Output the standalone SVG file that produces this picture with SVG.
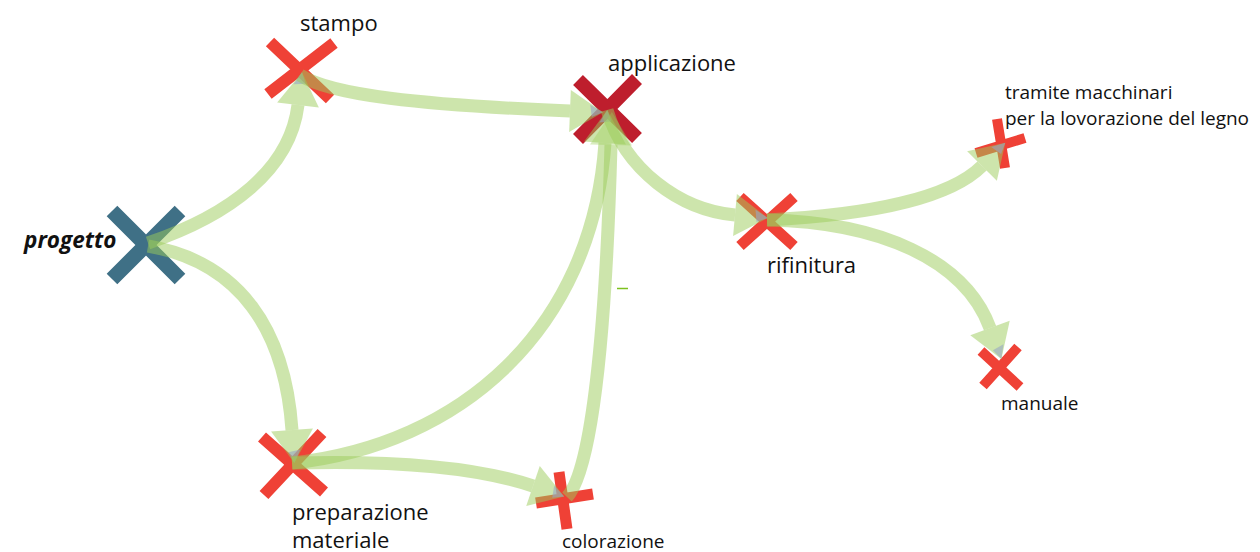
<svg xmlns="http://www.w3.org/2000/svg" width="1260" height="552" viewBox="0 0 1260 552">
<style>
.lbl{font-family:"Open Sans","Liberation Sans",sans-serif;fill:#111;}
.big{font-size:22px;}
.sm{font-size:19px;}
.red{stroke:#ef4136;fill:none;}
.edge{fill:none;stroke:#9ccc5a;stroke-opacity:0.5;stroke-width:13;}
</style>
<defs>
<marker id="ah" markerUnits="userSpaceOnUse" markerWidth="40" markerHeight="46" viewBox="0 -23 36 46" refX="0" refY="0" orient="auto">
<path d="M0,-21 L33,0 L0,21 Z" fill="#9ccc5a" fill-opacity="0.5"/>
<path d="M20,-7 L33,0 L22,5 Z" fill="#98a6c4" fill-opacity="0.6"/>
</marker>
<marker id="ah2" markerUnits="userSpaceOnUse" markerWidth="40" markerHeight="46" viewBox="0 -23 36 46" refX="0" refY="0" orient="auto">
<path d="M0,-21 L33,0 L0,21 Z" fill="#9ccc5a" fill-opacity="0.38"/>
</marker>
</defs>
<rect width="1260" height="552" fill="#fff"/>

<g id="progetto">
<path d="M112,211 L180,279 M112,279 L180,211" stroke="#3f7086" stroke-width="15" fill="none"/>
<text class="lbl" x="24" y="248" font-size="22.5" font-weight="bold" font-style="italic">progetto</text>
</g>
<g id="stampo">
<path d="M270,42 L330,99 M268,94 L334,43" class="red" stroke-width="12"/>
<text class="lbl big" x="300" y="31">stampo</text>
</g>
<g id="applicazione">
<path d="M578,80 L637,138 M578,139 L637,79" stroke="#be1e2d" stroke-width="14" fill="none"/>
<text class="lbl big" x="608" y="71">applicazione</text>
</g>
<g id="preparazione">
<path d="M262,437 L324,492 M264,495 L322,433" class="red" stroke-width="12"/>
<text class="lbl big" x="292" y="520">preparazione</text>
<text class="lbl big" x="292" y="548">materiale</text>
</g>
<g id="colorazione">
<path d="M559,472 L567,529 M536,503 L593,494" class="red" stroke-width="11"/>
<text class="lbl sm" x="562" y="548">colorazione</text>
</g>
<g id="rifinitura">
<path d="M740,197 L794,246 M740,246 L794,197" class="red" stroke-width="11"/>
<text class="lbl big" x="767" y="273">rifinitura</text>
</g>
<g id="tramite">
<path d="M997,119 L1005,168 M976,153 L1025,138" class="red" stroke-width="10"/>
<text class="lbl sm" x="1005" y="99">tramite macchinari</text>
<text class="lbl sm" x="1005" y="125">per la lovorazione del legno</text>
</g>
<g id="manuale">
<path d="M981,351 L1020,387 M983,386 L1018,347" class="red" stroke-width="10"/>
<text class="lbl sm" x="1001" y="410">manuale</text>
</g>

<g id="connectors">
<path class="edge" d="M148,243 C230,215 290,170 298,105" marker-end="url(#ah)"/>
<path class="edge" d="M300,75 C330,95 420,105 570,111" marker-end="url(#ah)"/>
<path class="edge" d="M148,246 C240,262 285,330 292,430" marker-end="url(#ah)"/>
<path class="edge" d="M292,463 C460,445 592,330 605,143" marker-end="url(#ah)"/>
<path class="edge" d="M292,463 C400,460 480,468 533,486" marker-end="url(#ah)"/>
<path class="edge" d="M567,497 C592,470 606,330 611,145" stroke-opacity="0.38" marker-end="url(#ah2)"/>
<path class="edge" d="M607,110 C625,170 680,210 735,215" marker-end="url(#ah)"/>
<path class="edge" d="M767,220 C870,215 950,198 982,166" marker-end="url(#ah)"/>
<path class="edge" d="M767,220 C880,222 965,260 990,328" marker-end="url(#ah)"/>
<line x1="617" y1="288.5" x2="628" y2="288.5" stroke="#7dc11f" stroke-width="1.5"/>
</g>
</svg>
